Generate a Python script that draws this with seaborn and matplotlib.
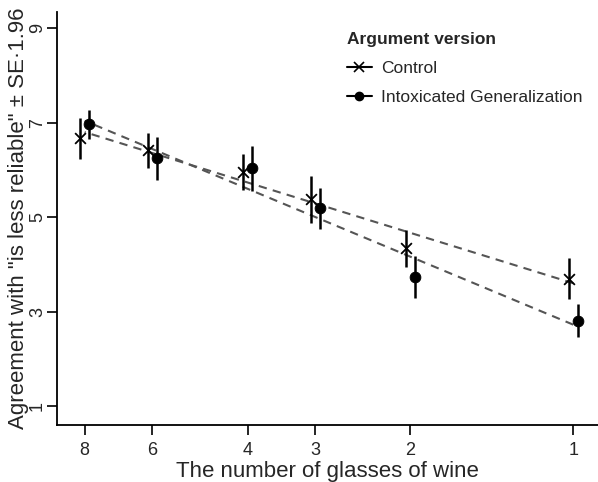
import numpy as np
import pandas as pd
import seaborn as sns
import matplotlib.pyplot as plt
from matplotlib.lines import Line2D
from matplotlib.ticker import NullLocator

# values
glasses = [8, 6, 4, 3, 2, 1]
control_mean = [6.67, 6.42, 5.96, 5.38, 4.34, 3.70]
control_err = [0.44, 0.37, 0.38, 0.50, 0.40, 0.43]
intox_mean = [6.97, 6.25, 6.04, 5.19, 3.73, 2.81]
intox_err = [0.31, 0.46, 0.48, 0.43, 0.44, 0.35]
groups = ['Control', 'Intoxicated Generalization']

df = pd.concat([
    pd.DataFrame({'glasses': glasses, 'mean': control_mean, 'err': control_err, 'version': groups[0]}),
    pd.DataFrame({'glasses': glasses, 'mean': intox_mean, 'err': intox_err, 'version': groups[1]}),
])

sns.set_style('white')
plt.rcParams['font.family'] = ['Liberation Sans', 'DejaVu Sans']

fig = plt.figure(figsize=(5.98, 4.82), dpi=100)
ax = fig.add_axes([0.0953, 0.1183, 0.9047, 0.857])

ax.set_xscale('log')

# dashed regression lines (y ~ log(x))
for g in groups:
    sub = df[df['version'] == g]
    sns.regplot(data=sub, x='glasses', y='mean', logx=True, ci=None, scatter=False,
                ax=ax, color='#555555', line_kws={'ls': (0, (4, 3)), 'lw': 1.5})

# small horizontal dodge in log space (x axis is reversed)
dodge = {groups[0]: np.exp(0.019), groups[1]: np.exp(-0.019)}
df['pos'] = df['glasses'] * df['version'].map(dodge)

for g in groups:
    sub = df[df['version'] == g]
    ax.errorbar(sub['pos'], sub['mean'], yerr=sub['err'], fmt='none',
                ecolor='black', elinewidth=1.8, capsize=0, zorder=3)

sns.scatterplot(data=df[df['version'] == groups[0]], x='pos', y='mean', marker='x',
                s=60, color='black', linewidth=1.3, ax=ax, legend=False, zorder=4)
sns.scatterplot(data=df[df['version'] == groups[1]], x='pos', y='mean', marker='o',
                s=60, color='black', edgecolor='black', ax=ax, legend=False, zorder=4)

ax.set_xlim(9.0, 0.9)
ax.set_ylim(0.6, 9.35)
ax.set_xticks(glasses)
ax.set_xticklabels([str(v) for v in glasses])
ax.xaxis.set_minor_locator(NullLocator())
ax.set_yticks([1, 3, 5, 7, 9])

ax.tick_params(axis='both', bottom=True, left=True, direction='out', length=7, width=1.2,
               labelsize=13, color='black')
ax.tick_params(axis='x', pad=5)
ax.tick_params(axis='y', labelrotation=90, pad=1)
for lab in ax.get_yticklabels():
    lab.set_va('center')
for side in ['top', 'right']:
    ax.spines[side].set_visible(False)
for side in ['left', 'bottom']:
    ax.spines[side].set_color('black')
    ax.spines[side].set_linewidth(1.3)

ax.set_xlabel('The number of glasses of wine', fontsize=16, labelpad=2)
ax.set_ylabel('Agreement with "is less reliable" ± SE·1.96', fontsize=16, labelpad=0)

handles = [
    Line2D([0], [0], color='black', lw=1.5, marker='x', markersize=7, mew=1.2),
    Line2D([0], [0], color='black', lw=1.5, marker='o', markersize=6),
]
leg = ax.legend(handles, groups, title='Argument version', loc='upper left',
                bbox_to_anchor=(0.507, 0.99), frameon=False, fontsize=12.5,
                title_fontproperties={'weight': 'bold', 'size': 12.5},
                handlelength=1.45, handletextpad=0.5, labelspacing=0.8)
leg._legend_box.align = 'left'

fig.savefig('out.png', dpi=100)
